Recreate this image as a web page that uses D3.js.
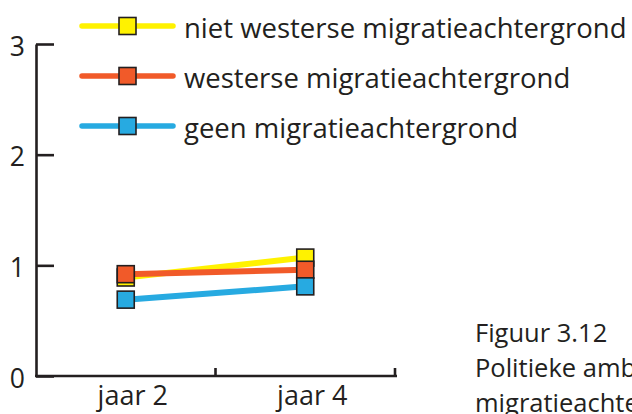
<!DOCTYPE html>
<html>
<head>
<meta charset="utf-8">
<script src="https://cdn.jsdelivr.net/npm/d3@7"></script>
<style>
  html, body { margin: 0; padding: 0; background: #fff; overflow: hidden; }
  svg { display: block; }
  text { font-family: "Open Sans", "Noto Sans", sans-serif; fill: #231f20; }
</style>
</head>
<body>
<svg id="chart" width="632" height="414"></svg>
<script>
const categories = ["jaar 2", "jaar 4"];
const seriesNames = ["niet westerse migratieachtergrond", "westerse migratieachtergrond", "geen migratieachtergrond"];
const seriesColors = ["#fff200", "#f15a29", "#27aae1"];
const nietWesterse = [0.89, 1.07];
const westerse = [0.92, 0.96];
const geen = [0.69, 0.81];
const yTicks = [0, 1, 2, 3];
const captionLines = ["Figuur 3.12", "Politieke ambities naar", "migratieachtergrond"];

const seriesValues = [nietWesterse, westerse, geen];
const ink = "#231f20";
const font = '"Open Sans", "Noto Sans", sans-serif';

const svg = d3.select("#chart");

const x = d3.scaleBand().domain(categories).range([36, 395]).padding(0);
const y = d3.scaleLinear().domain([0, 3]).range([376, 44]);

// Y axis
const yAxis = svg.append("g").attr("transform", "translate(36,0)")
  .call(d3.axisLeft(y).tickValues(yTicks).tickSize(-18).tickSizeOuter(0).tickPadding(11).tickFormat(d3.format("d")));
yAxis.select(".domain").attr("stroke", ink).attr("stroke-width", 2.6);
yAxis.selectAll(".tick line").attr("stroke", ink).attr("stroke-width", 2.6);
yAxis.selectAll(".tick text").attr("font-size", 26.5).attr("fill", ink).attr("dy", "0.42em")
  .style("font-family", font);

// X axis
const xAxis = svg.append("g").attr("transform", "translate(0,376)")
  .call(d3.axisBottom(x).tickSize(0).tickSizeOuter(0).tickPadding(7));
xAxis.select(".domain").attr("stroke", ink).attr("stroke-width", 2.6).attr("d", "M35,0H397");
xAxis.selectAll(".tick text").attr("font-size", 27).attr("fill", ink).attr("dx", 7).attr("dy", "0.8em")
  .style("font-family", font);
const bounds = categories.map(c => x(c) + x.bandwidth());
xAxis.selectAll(".bound").data(bounds).join("line")
  .attr("class", "bound")
  .attr("x1", d => d).attr("x2", d => d).attr("y1", 0).attr("y2", -8)
  .attr("stroke", ink).attr("stroke-width", 2.6);

// Series
const line = d3.line().x((d, i) => x(categories[i]) + x.bandwidth() / 2).y(d => y(d));
seriesValues.forEach((vals, si) => {
  svg.append("path").datum(vals).attr("d", line)
    .attr("fill", "none").attr("stroke", seriesColors[si]).attr("stroke-width", 6);
});
const ms = 17;
seriesValues.forEach((vals, si) => {
  svg.append("g").selectAll("rect").data(vals).join("rect")
    .attr("x", (d, i) => x(categories[i]) + x.bandwidth() / 2 - ms / 2)
    .attr("y", d => y(d) - ms / 2)
    .attr("width", ms).attr("height", ms)
    .attr("fill", seriesColors[si]).attr("stroke", ink).attr("stroke-width", 1.6);
});

// Legend
const legend = svg.append("g");
seriesNames.forEach((name, i) => {
  const ly = 26 + i * 50;
  const g = legend.append("g").attr("transform", `translate(0,${ly})`);
  g.append("line").attr("x1", 82).attr("x2", 173).attr("y1", 0).attr("y2", 0)
    .attr("stroke", seriesColors[i]).attr("stroke-width", 5.5).attr("stroke-linecap", "round");
  g.append("rect").attr("x", 127.5 - ms / 2).attr("y", -ms / 2).attr("width", ms).attr("height", ms)
    .attr("fill", seriesColors[i]).attr("stroke", ink).attr("stroke-width", 1.6);
  g.append("text").attr("x", 184).attr("y", 11.5).attr("font-size", 27.5).text(name);
});

// Caption
svg.append("g").selectAll("text").data(captionLines).join("text")
  .attr("x", 475).attr("y", (d, i) => 342 + i * 35).attr("font-size", 25.5).text(d => d);
</script>
</body>
</html>
